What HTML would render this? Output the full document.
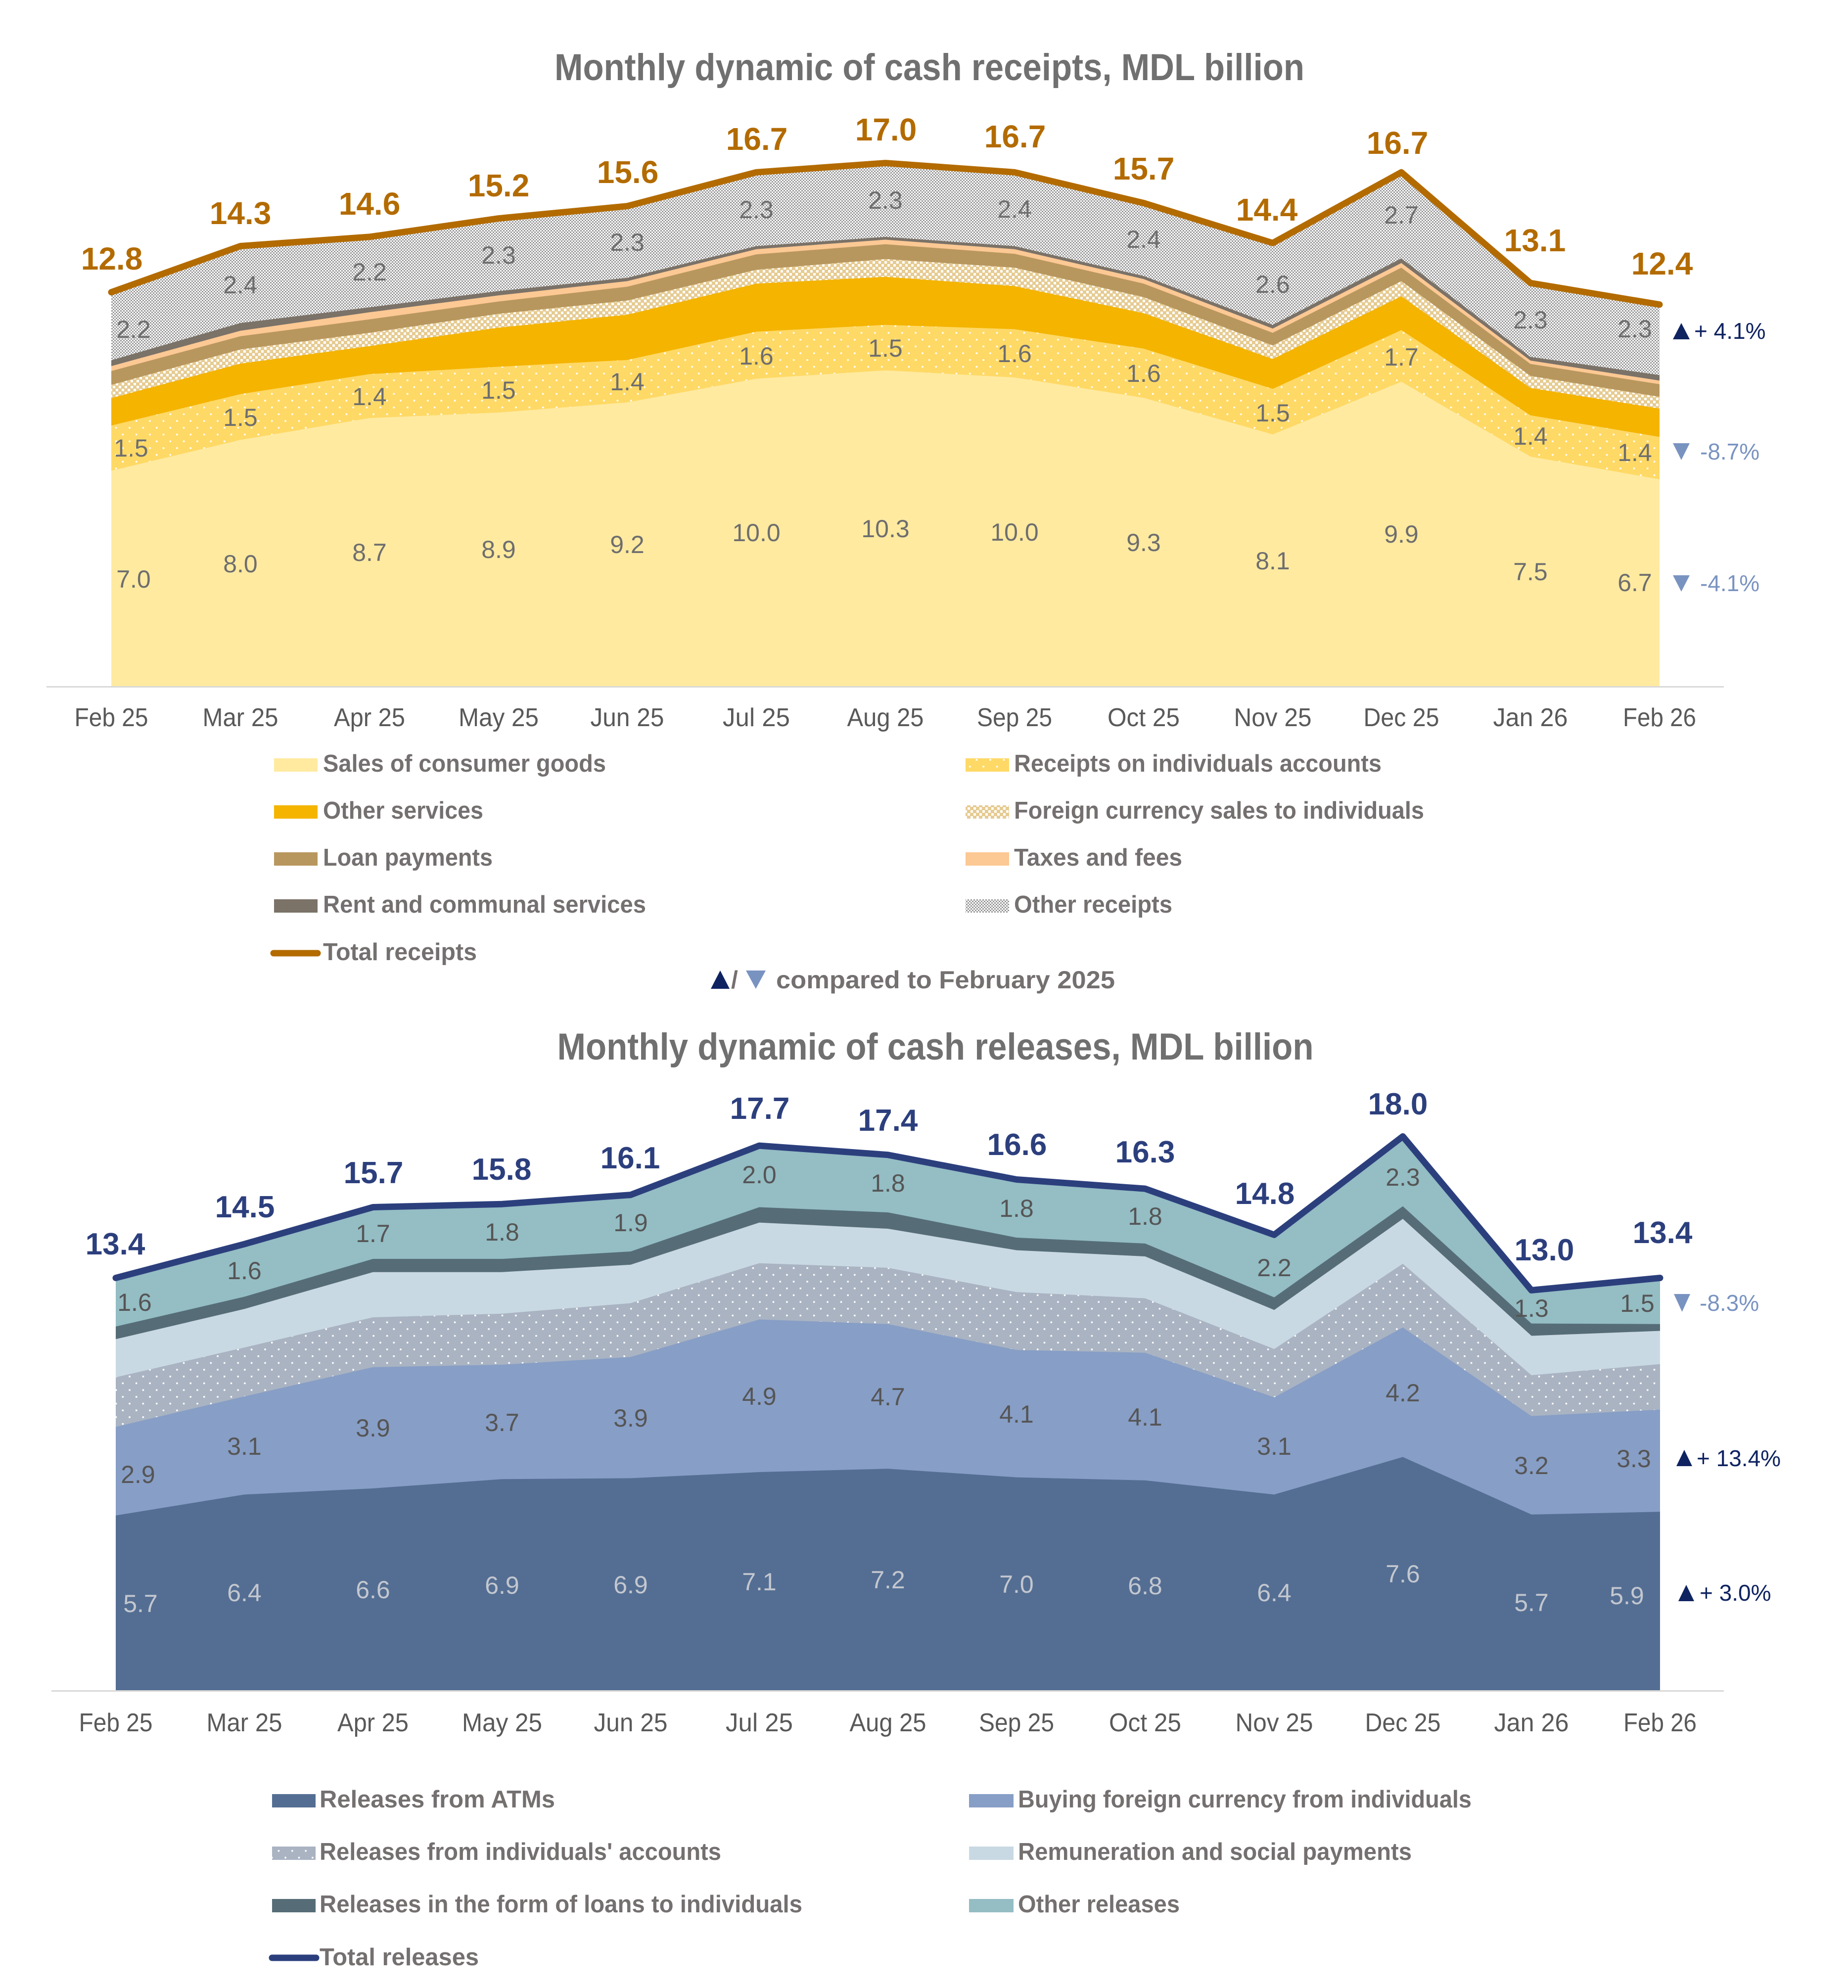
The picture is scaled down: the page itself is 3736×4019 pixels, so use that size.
<!DOCTYPE html>
<html><head><meta charset="utf-8"><style>html,body{margin:0;padding:0;background:#fff}svg{display:block}</style></head>
<body>
<svg xmlns="http://www.w3.org/2000/svg" width="3736" height="4019" viewBox="0 0 3736 4019" font-family="'Liberation Sans', Arial, sans-serif">
<defs>
<pattern id="pRec" width="27.4" height="27.4" patternUnits="userSpaceOnUse"><rect width="27.4" height="27.4" fill="#ffd966"/><rect x="0" y="0" width="3.4" height="3.4" fill="#fff"/><rect x="13.7" y="13.7" width="3.4" height="3.4" fill="#fff"/></pattern>
<pattern id="pInd" width="27.4" height="27.4" patternUnits="userSpaceOnUse"><rect width="27.4" height="27.4" fill="#a9b3c2"/><rect x="0" y="0" width="3.4" height="3.4" fill="#fff"/><rect x="13.7" y="13.7" width="3.4" height="3.4" fill="#fff"/></pattern>
<pattern id="pFC" width="12" height="12" patternUnits="userSpaceOnUse"><rect width="12" height="12" fill="#e6cb92"/><rect x="0" y="0" width="5" height="5" fill="#fff"/><rect x="6" y="6" width="5" height="5" fill="#fff"/></pattern>
<pattern id="pOth" width="6" height="6" patternUnits="userSpaceOnUse"><rect width="6" height="6" fill="#fff"/><rect width="3" height="3" fill="#9a9a9a"/><rect x="3" y="3" width="3" height="3" fill="#9a9a9a"/></pattern>
</defs>
<rect width="3736" height="4019" fill="#fff"/>

<!-- ================= TOP CHART ================= -->
<text x="1879" y="162" font-size="76" font-weight="bold" fill="#707070" text-anchor="middle" textLength="1516" lengthAdjust="spacingAndGlyphs">Monthly dynamic of cash receipts, MDL billion</text>

<polygon fill="url(#pOth)" points="225,590.8 486,497.5 747,478.9 1008,441.6 1268,416.7 1529,348.3 1790,329.6 2051,348.3 2312,410.5 2573,491.3 2833,348.3 3094,572.2 3355,615.7 3355,1387 225,1387"/>
<polygon fill="#7b7268" points="225,728.3 486,653.0 747,621.3 1008,588.4 1268,561.6 1529,497.5 1790,478.9 2051,497.5 2312,557.9 2573,656.8 2833,522.4 3094,721.5 3355,758.2 3355,1387 225,1387"/>
<polygon fill="#fcc893" points="225,740.1 486,668.6 747,631.3 1008,597.1 1268,568.4 1529,503.8 1790,484.5 2051,503.8 2312,564.1 2573,664.2 2833,531.7 3094,728.9 3355,769.4 3355,1387 225,1387"/>
<polygon fill="#b8975e" points="225,750.1 486,679.8 747,645.6 1008,609.5 1268,579.6 1529,514.3 1790,493.8 2051,513.1 2312,573.4 2573,672.9 2833,541.1 3094,735.8 3355,776.8 3355,1387 225,1387"/>
<polygon fill="url(#pFC)" points="225,778.1 486,706.5 747,672.9 1008,634.4 1268,607.6 1529,545.4 1790,523.7 2051,541.1 2312,600.8 2573,698.4 2833,568.4 3094,760.0 3355,802.3 3355,1387 225,1387"/>
<polygon fill="#f4b400" points="225,804.8 486,735.1 747,699.7 1008,662.4 1268,636.2 1529,573.4 1790,559.7 2051,578.4 2312,633.1 2573,725.8 2833,598.9 3094,784.3 3355,826.0 3355,1387 225,1387"/>
<polygon fill="url(#pRec)" points="225,860.2 486,796.7 747,756.3 1008,741.4 1268,727.7 1529,670.5 1790,656.8 2051,665.5 2312,704.7 2573,786.1 2833,667.3 3094,839.6 3355,883.2 3355,1387 225,1387"/>
<polygon fill="#ffeaa0" points="225,951.6 486,889.4 747,845.2 1008,834.0 1268,813.5 1529,765.6 1790,748.8 2051,763.1 2312,804.2 2573,878.2 2833,771.8 3094,923.0 3355,969.0 3355,1387 225,1387"/>
<polyline fill="none" stroke="#b36b00" stroke-width="13" stroke-linejoin="round" stroke-linecap="round" points="225,590.8 486,497.5 747,478.9 1008,441.6 1268,416.7 1529,348.3 1790,329.6 2051,348.3 2312,410.5 2573,491.3 2833,348.3 3094,572.2 3355,615.7"/>
<line x1="94" y1="1388.5" x2="3485" y2="1388.5" stroke="#d9d9d9" stroke-width="3"/>

<g font-size="50" fill="#6e6e6e" text-anchor="middle">
<text x="270" y="1188">7.0</text><text x="486" y="1157">8.0</text><text x="747" y="1134">8.7</text><text x="1008" y="1128">8.9</text><text x="1268" y="1118">9.2</text><text x="1529" y="1094">10.0</text><text x="1790" y="1086">10.3</text><text x="2051" y="1093">10.0</text><text x="2312" y="1114">9.3</text><text x="2573" y="1151">8.1</text><text x="2833" y="1097">9.9</text><text x="3094" y="1173">7.5</text><text x="3305" y="1195">6.7</text>
<text x="265" y="923">1.5</text><text x="486" y="861">1.5</text><text x="747" y="819">1.4</text><text x="1008" y="806">1.5</text><text x="1268" y="789">1.4</text><text x="1529" y="737">1.6</text><text x="1790" y="721">1.5</text><text x="2051" y="732">1.6</text><text x="2312" y="772">1.6</text><text x="2573" y="852">1.5</text><text x="2833" y="739">1.7</text><text x="3094" y="899">1.4</text><text x="3305" y="932">1.4</text>
<text x="270" y="683">2.2</text><text x="486" y="593">2.4</text><text x="747" y="567">2.2</text><text x="1008" y="533">2.3</text><text x="1268" y="507">2.3</text><text x="1529" y="441">2.3</text><text x="1790" y="422">2.3</text><text x="2051" y="440">2.4</text><text x="2312" y="501">2.4</text><text x="2573" y="592">2.6</text><text x="2833" y="452">2.7</text><text x="3094" y="664">2.3</text><text x="3305" y="682">2.3</text>
</g>
<g font-size="64" font-weight="bold" fill="#b36b00" text-anchor="middle">
<text x="226" y="545">12.8</text><text x="486" y="453">14.3</text><text x="747" y="434">14.6</text><text x="1008" y="397">15.2</text><text x="1269" y="370">15.6</text><text x="1530" y="303">16.7</text><text x="1791" y="284">17.0</text><text x="2052" y="298">16.7</text><text x="2312" y="363">15.7</text><text x="2561" y="446">14.4</text><text x="2825" y="311">16.7</text><text x="3103" y="508">13.1</text><text x="3360" y="555">12.4</text>
</g>
<g font-size="52" fill="#595959" text-anchor="middle" lengthAdjust="spacingAndGlyphs">
<text x="225" y="1468" textLength="149" lengthAdjust="spacingAndGlyphs">Feb 25</text><text x="486" y="1468" textLength="153" lengthAdjust="spacingAndGlyphs">Mar 25</text><text x="747" y="1468" textLength="144" lengthAdjust="spacingAndGlyphs">Apr 25</text><text x="1008" y="1468" textLength="162" lengthAdjust="spacingAndGlyphs">May 25</text><text x="1268" y="1468" textLength="149" lengthAdjust="spacingAndGlyphs">Jun 25</text><text x="1529" y="1468" textLength="136" lengthAdjust="spacingAndGlyphs">Jul 25</text><text x="1790" y="1468" textLength="155" lengthAdjust="spacingAndGlyphs">Aug 25</text><text x="2051" y="1468" textLength="152" lengthAdjust="spacingAndGlyphs">Sep 25</text><text x="2312" y="1468" textLength="146" lengthAdjust="spacingAndGlyphs">Oct 25</text><text x="2573" y="1468" textLength="157" lengthAdjust="spacingAndGlyphs">Nov 25</text><text x="2833" y="1468" textLength="153" lengthAdjust="spacingAndGlyphs">Dec 25</text><text x="3094" y="1468" textLength="151" lengthAdjust="spacingAndGlyphs">Jan 26</text><text x="3355" y="1468" textLength="148" lengthAdjust="spacingAndGlyphs">Feb 26</text>
</g>
<!-- top annotations -->
<polygon fill="#0f2361" points="3382,686 3416,686 3399,653"/>
<text x="3425" y="685" font-size="46" fill="#0f2361">+ 4.1%</text>
<polygon fill="#7993c1" points="3382,896 3416,896 3399,930"/>
<text x="3437" y="929" font-size="46" fill="#7993c1">-8.7%</text>
<polygon fill="#7993c1" points="3382,1163 3416,1163 3399,1196"/>
<text x="3437" y="1195" font-size="46" fill="#7993c1">-4.1%</text>

<!-- top legend -->
<g font-size="49" font-weight="bold" fill="#757070">
<rect x="554" y="1533" width="88" height="27" fill="#ffeaa0"/><text x="653" y="1560" textLength="572" lengthAdjust="spacingAndGlyphs">Sales of consumer goods</text>
<rect x="1952" y="1533" width="88" height="27" fill="url(#pRec)"/><text x="2050" y="1560" textLength="743" lengthAdjust="spacingAndGlyphs">Receipts on individuals accounts</text>
<rect x="554" y="1628" width="88" height="27" fill="#f4b400"/><text x="653" y="1655" textLength="324" lengthAdjust="spacingAndGlyphs">Other services</text>
<rect x="1952" y="1628" width="88" height="27" fill="url(#pFC)"/><text x="2050" y="1655" textLength="829" lengthAdjust="spacingAndGlyphs">Foreign currency sales to individuals</text>
<rect x="554" y="1723" width="88" height="27" fill="#b8975e"/><text x="653" y="1750" textLength="343" lengthAdjust="spacingAndGlyphs">Loan payments</text>
<rect x="1952" y="1723" width="88" height="27" fill="#fcc893"/><text x="2050" y="1750" textLength="340" lengthAdjust="spacingAndGlyphs">Taxes and fees</text>
<rect x="554" y="1818" width="88" height="27" fill="#7b7268"/><text x="653" y="1845" textLength="653" lengthAdjust="spacingAndGlyphs">Rent and communal services</text>
<rect x="1952" y="1818" width="88" height="27" fill="url(#pOth)"/><text x="2050" y="1845" textLength="320" lengthAdjust="spacingAndGlyphs">Other receipts</text>
<line x1="553" y1="1927" x2="642" y2="1927" stroke="#b36b00" stroke-width="13" stroke-linecap="round"/><text x="653" y="1941" textLength="311" lengthAdjust="spacingAndGlyphs">Total receipts</text>
<polygon fill="#0f2361" points="1437,1999 1475,1999 1456,1962"/>
<text x="1478" y="1998" font-size="50">/</text>
<polygon fill="#7993c1" points="1508,1962 1548,1962 1528,1999"/>
<text x="1569" y="1998" font-size="50" textLength="685" lengthAdjust="spacingAndGlyphs">compared to February 2025</text>
</g>

<!-- ================= BOTTOM CHART ================= -->
<text x="1891" y="2142" font-size="76" font-weight="bold" fill="#707070" text-anchor="middle" textLength="1529" lengthAdjust="spacingAndGlyphs">Monthly dynamic of cash releases, MDL billion</text>

<polygon fill="#94bdc4" points="234,2583.5 494,2515.1 754,2440.5 1015,2434.2 1275,2415.6 1535,2316.1 1795,2334.7 2055,2384.5 2315,2403.1 2576,2496.4 2836,2297.4 3096,2608.4 3356,2583.5 3356,3417 234,3417"/>
<polygon fill="#566d77" points="234,2681.8 494,2621.5 754,2545.0 1015,2545.0 1275,2530.0 1535,2440.5 1795,2451.0 2055,2502.0 2315,2513.9 2576,2622.7 2836,2438.6 3096,2675.6 3356,2676.8 3356,3417 234,3417"/>
<polygon fill="#c9d9e3" points="234,2707.3 494,2646.3 754,2571.7 1015,2571.7 1275,2556.8 1535,2471.6 1795,2484.0 2055,2527.5 2315,2540.0 2576,2648.2 2836,2464.1 3096,2700.5 3356,2690.5 3356,3417 234,3417"/>
<polygon fill="url(#pInd)" points="234,2784.4 494,2724.1 754,2663.1 1015,2655.7 1275,2634.5 1535,2553.7 1795,2563.0 2055,2612.1 2315,2624.6 2576,2727.2 2836,2554.9 3096,2780.1 3356,2757.7 3356,3417 234,3417"/>
<polygon fill="#879ec6" points="234,2884.6 494,2823.0 754,2763.9 1015,2758.9 1275,2743.4 1535,2667.5 1795,2676.8 2055,2729.1 2315,2734.7 2576,2824.9 2836,2683.7 3096,2862.8 3356,2849.7 3356,3417 234,3417"/>
<polygon fill="#546e93" points="234,3063.7 494,3021.4 754,3009.0 1015,2990.3 1275,2988.4 1535,2976.0 1795,2969.2 2055,2986.6 2315,2992.8 2576,3021.4 2836,2945.5 3096,3061.8 3356,3056.2 3356,3417 234,3417"/>
<polyline fill="none" stroke="#2c3f7d" stroke-width="13" stroke-linejoin="round" stroke-linecap="round" points="234,2583.5 494,2515.1 754,2440.5 1015,2434.2 1275,2415.6 1535,2316.1 1795,2334.7 2055,2384.5 2315,2403.1 2576,2496.4 2836,2297.4 3096,2608.4 3356,2583.5"/>
<line x1="104" y1="3418.5" x2="3485" y2="3418.5" stroke="#d9d9d9" stroke-width="3"/>

<g font-size="50" text-anchor="middle">
<g fill="#c3c7cf">
<text x="284" y="3259">5.7</text><text x="494" y="3237">6.4</text><text x="754" y="3231">6.6</text><text x="1015" y="3222">6.9</text><text x="1275" y="3221">6.9</text><text x="1535" y="3215">7.1</text><text x="1795" y="3211">7.2</text><text x="2055" y="3220">7.0</text><text x="2315" y="3223">6.8</text><text x="2576" y="3237">6.4</text><text x="2836" y="3199">7.6</text><text x="3096" y="3257">5.7</text><text x="3289" y="3243">5.9</text>
</g>
<g fill="#555555">
<text x="279" y="2998">2.9</text><text x="494" y="2941">3.1</text><text x="754" y="2904">3.9</text><text x="1015" y="2893">3.7</text><text x="1275" y="2884">3.9</text><text x="1535" y="2840">4.9</text><text x="1795" y="2841">4.7</text><text x="2055" y="2876">4.1</text><text x="2315" y="2882">4.1</text><text x="2576" y="2941">3.1</text><text x="2836" y="2833">4.2</text><text x="3096" y="2980">3.2</text><text x="3303" y="2966">3.3</text>
<text x="272" y="2650">1.6</text><text x="494" y="2586">1.6</text><text x="754" y="2511">1.7</text><text x="1015" y="2508">1.8</text><text x="1275" y="2489">1.9</text><text x="1535" y="2392">2.0</text><text x="1795" y="2409">1.8</text><text x="2055" y="2460">1.8</text><text x="2315" y="2476">1.8</text><text x="2576" y="2580">2.2</text><text x="2836" y="2397">2.3</text><text x="3096" y="2662">1.3</text><text x="3310" y="2652">1.5</text>
</g>
</g>
<g font-size="62" font-weight="bold" fill="#2c3f7d" text-anchor="middle">
<text x="233" y="2536">13.4</text><text x="495" y="2461">14.5</text><text x="755" y="2392">15.7</text><text x="1014" y="2385">15.8</text><text x="1274" y="2362">16.1</text><text x="1536" y="2262">17.7</text><text x="1795" y="2286">17.4</text><text x="2056" y="2335">16.6</text><text x="2315" y="2350">16.3</text><text x="2557" y="2434">14.8</text><text x="2826" y="2253">18.0</text><text x="3122" y="2548">13.0</text><text x="3361" y="2513">13.4</text>
</g>
<g font-size="52" fill="#595959" text-anchor="middle">
<text x="234" y="3500" textLength="149" lengthAdjust="spacingAndGlyphs">Feb 25</text><text x="494" y="3500" textLength="153" lengthAdjust="spacingAndGlyphs">Mar 25</text><text x="754" y="3500" textLength="144" lengthAdjust="spacingAndGlyphs">Apr 25</text><text x="1015" y="3500" textLength="162" lengthAdjust="spacingAndGlyphs">May 25</text><text x="1275" y="3500" textLength="149" lengthAdjust="spacingAndGlyphs">Jun 25</text><text x="1535" y="3500" textLength="136" lengthAdjust="spacingAndGlyphs">Jul 25</text><text x="1795" y="3500" textLength="155" lengthAdjust="spacingAndGlyphs">Aug 25</text><text x="2055" y="3500" textLength="152" lengthAdjust="spacingAndGlyphs">Sep 25</text><text x="2315" y="3500" textLength="146" lengthAdjust="spacingAndGlyphs">Oct 25</text><text x="2576" y="3500" textLength="157" lengthAdjust="spacingAndGlyphs">Nov 25</text><text x="2836" y="3500" textLength="153" lengthAdjust="spacingAndGlyphs">Dec 25</text><text x="3096" y="3500" textLength="151" lengthAdjust="spacingAndGlyphs">Jan 26</text><text x="3356" y="3500" textLength="148" lengthAdjust="spacingAndGlyphs">Feb 26</text>
</g>
<!-- bottom annotations -->
<polygon fill="#7993c1" points="3384,2616 3417,2616 3400.5,2652"/>
<text x="3436" y="2650" font-size="46" fill="#7993c1">-8.3%</text>
<polygon fill="#0f2361" points="3389,2964 3421,2964 3405,2931"/>
<text x="3430" y="2964" font-size="46" fill="#0f2361">+ 13.4%</text>
<polygon fill="#0f2361" points="3393,3237 3425,3237 3409,3204"/>
<text x="3436" y="3236" font-size="46" fill="#0f2361">+ 3.0%</text>

<!-- bottom legend -->
<g font-size="49" font-weight="bold" fill="#757070">
<rect x="550" y="3627" width="88" height="27" fill="#546e93"/><text x="646" y="3654" textLength="476" lengthAdjust="spacingAndGlyphs">Releases from ATMs</text>
<rect x="1959" y="3627" width="90" height="27" fill="#879ec6"/><text x="2058" y="3654" textLength="917" lengthAdjust="spacingAndGlyphs">Buying foreign currency from individuals</text>
<rect x="550" y="3733" width="88" height="27" fill="url(#pInd)"/><text x="646" y="3760" textLength="812" lengthAdjust="spacingAndGlyphs">Releases from individuals' accounts</text>
<rect x="1959" y="3733" width="90" height="27" fill="#c9d9e3"/><text x="2058" y="3760" textLength="796" lengthAdjust="spacingAndGlyphs">Remuneration and social payments</text>
<rect x="550" y="3839" width="88" height="27" fill="#566d77"/><text x="646" y="3866" textLength="976" lengthAdjust="spacingAndGlyphs">Releases in the form of loans to individuals</text>
<rect x="1959" y="3839" width="90" height="27" fill="#94bdc4"/><text x="2058" y="3866" textLength="327" lengthAdjust="spacingAndGlyphs">Other releases</text>
<line x1="550" y1="3958" x2="639" y2="3958" stroke="#2c3f7d" stroke-width="13" stroke-linecap="round"/><text x="646" y="3973" textLength="322" lengthAdjust="spacingAndGlyphs">Total releases</text>
</g>
</svg>
</body></html>
